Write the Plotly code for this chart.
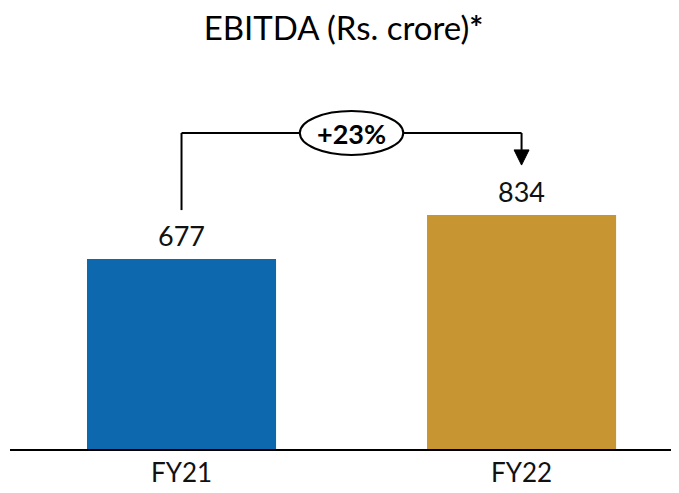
import plotly.graph_objects as go

categories = ["FY21", "FY22"]
values = [677, 834]
colors = ["#0E68AE", "#C79632"]
growth_label = "+23%"
title_text = "EBITDA (Rs. crore)<b>*</b>"

FONT = "Lato, Open Sans, sans-serif"
xpos = list(range(len(categories)))

fig = go.Figure()
fig.add_trace(go.Bar(
    x=xpos, y=values, width=0.556,
    marker=dict(color=colors, line=dict(width=0)),
    hoverinfo="skip",
))

vmax = max(values)
bracket_y = vmax * 1.35
left_bottom = values[0] + (vmax - values[0]) * 1.11
ell_cx = 0.5
ell_w = 0.152
ell_h = 78
arrow_tip = vmax * 1.213
arrow_head = 54

line = dict(color="black", width=2)
shapes = [
    dict(type="line", x0=0, x1=0, y0=left_bottom, y1=bracket_y, line=line),
    dict(type="line", x0=0, x1=ell_cx - ell_w, y0=bracket_y, y1=bracket_y, line=line),
    dict(type="line", x0=ell_cx + ell_w, x1=1, y0=bracket_y, y1=bracket_y, line=line),
    dict(type="line", x0=1, x1=1, y0=bracket_y, y1=arrow_tip + arrow_head, line=line),
    dict(type="path",
         path=f"M {1-0.022},{arrow_tip + arrow_head} L {1+0.022},{arrow_tip + arrow_head} L 1,{arrow_tip} Z",
         fillcolor="black", line=dict(color="black", width=1)),
    dict(type="circle", x0=ell_cx - ell_w, x1=ell_cx + ell_w,
         y0=bracket_y - ell_h, y1=bracket_y + ell_h,
         fillcolor="white", line=line),
]

annotations = [
    dict(x=ell_cx, y=bracket_y, text=f"<b>{growth_label}</b>", showarrow=False,
         font=dict(size=27, color="black", family=FONT), xanchor="center", yanchor="middle"),
]
for xp, v in zip(xpos, values):
    annotations.append(dict(x=xp, y=v, text=str(v), showarrow=False, xanchor="center",
                            yanchor="bottom", yshift=5,
                            font=dict(size=27, color="#111111", family=FONT)))

fig.update_layout(
    width=671, height=485,
    margin=dict(l=2, r=0, t=52, b=44),
    paper_bgcolor="white", plot_bgcolor="white",
    showlegend=False,
    title=dict(text=title_text, x=0.5, xanchor="center", y=0.982, yanchor="top",
               font=dict(size=33, color="black", family=FONT)),
    xaxis=dict(range=[-0.5044, 1.463], tickvals=xpos, ticktext=categories,
               showgrid=False, zeroline=False, showline=True, linecolor="black", linewidth=2,
               ticks="", tickfont=dict(size=26, color="#111111", family=FONT)),
    yaxis=dict(range=[0, 1386], visible=False, showgrid=False, zeroline=False),
    shapes=shapes, annotations=annotations,
)

fig.write_html("out.html")
